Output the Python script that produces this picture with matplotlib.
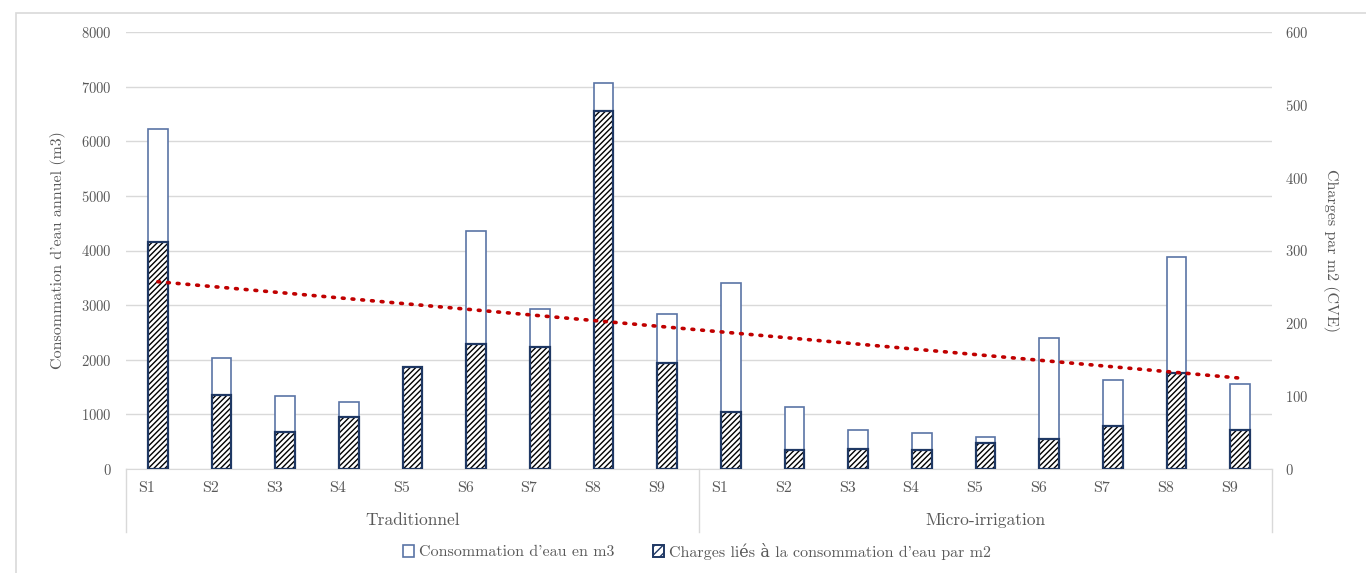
import matplotlib
matplotlib.use("Agg")
import matplotlib.pyplot as plt
import numpy as np
from matplotlib.patches import Patch, Rectangle
from matplotlib.lines import Line2D
import matplotlib.transforms as mtransforms

plt.rcParams['font.family'] = ['cmr10', 'DejaVu Serif']
plt.rcParams['axes.formatter.use_mathtext'] = True
plt.rcParams['hatch.linewidth'] = 1.0

groups = ["Traditionnel", "Micro-irrigation"]
sites = ["S1", "S2", "S3", "S4", "S5", "S6", "S7", "S8", "S9"]
consommation_trad = [6230, 2030, 1330, 1230, 1860, 4350, 2930, 7070, 2840]
consommation_micro = [3410, 1130, 720, 660, 590, 2390, 1630, 3880, 1555]
charges_trad = [311, 102, 51, 71, 140, 172, 167, 492, 146]
charges_micro = [78, 26, 28, 26, 36, 41, 59, 132, 53]

consommation = consommation_trad + consommation_micro
charges = charges_trad + charges_micro
labels = sites + sites
x = np.arange(len(labels))

grey_text = "#595959"
grid_c = "#d9d9d9"
outline_c = "#5a74a6"
navy = "#1f3864"

fig = plt.figure(figsize=(13.66, 5.73), dpi=100)
ax = fig.add_axes([126/1366, 1 - 469/573, 1146/1366, (469-32)/573])
ax2 = ax.twinx()

w = 0.31
ax.bar(x, consommation, width=w, facecolor="white", edgecolor=outline_c, linewidth=1.2, zorder=2)
ax.set_ylim(0, 8000)
ax.set_xlim(-0.5, len(labels) - 0.5)
ax.set_yticks(np.arange(0, 8001, 1000))
ax.grid(axis="y", color=grid_c, linewidth=1.0, zorder=0)
ax.set_axisbelow(True)

ax2.bar(x, charges, width=w, facecolor="white", edgecolor="black", linewidth=0, hatch="//////", zorder=2)
ax2.bar(x, charges, width=w, facecolor="none", edgecolor=navy, linewidth=1.6, zorder=3)
ax2.set_ylim(0, 600)
ax2.set_yticks(np.arange(0, 601, 100))

# linear trend of water consumption (left axis)
coef = np.polyfit(x, consommation, 1)
trend = np.polyval(coef, x)
ax2.plot(x, trend, transform=ax.transData, color="#c00000", linestyle=(0, (0.5, 2.2)),
         linewidth=2.6, dash_capstyle="round", zorder=5)

for a in (ax, ax2):
    for s in a.spines.values():
        s.set_visible(False)
    a.tick_params(axis="y", length=0, labelsize=10.5, labelcolor=grey_text)
ax.spines["bottom"].set_visible(True)
ax.spines["bottom"].set_color(grid_c)
ax.tick_params(axis="y", pad=10)
ax2.tick_params(axis="y", pad=9.5)

ax.set_xticks(x)
ax.set_xticklabels(labels, fontsize=11.5, color=grey_text)
ax.tick_params(axis="x", length=0, pad=9)
offset = mtransforms.ScaledTranslation(-11/100, 0, fig.dpi_scale_trans)
for lbl in ax.get_xticklabels():
    lbl.set_transform(lbl.get_transform() + offset)

ax.set_ylabel("Consommation d'eau annuel (m3)", fontsize=11.5, color=grey_text, labelpad=11)
ax2.set_ylabel("Charges par m2 (CVE)", fontsize=11.5, color=grey_text, rotation=-90, labelpad=22)

# group labels and separators
trans = mtransforms.blended_transform_factory(ax.transData, ax.transAxes)
ax_h_px = 469 - 32
sep_bottom = -(532 - 469) / ax_h_px
for i, g in enumerate(groups):
    center = i * len(sites) + (len(sites) - 1) / 2
    ax.text(center, -(520 - 469) / ax_h_px, g, transform=trans, ha="center", va="center",
            fontsize=12.5, color=grey_text)
for b in [-0.5, len(sites) - 0.5, 2 * len(sites) - 0.5]:
    ax.add_line(Line2D([b, b], [0, sep_bottom], transform=trans, color=grid_c,
                       linewidth=1.0, clip_on=False))

handles = [Patch(facecolor="white", edgecolor=outline_c, linewidth=1.2),
           Patch(facecolor="white", edgecolor=navy, linewidth=1.4, hatch="////")]
fig.legend(handles, ["Consommation d'eau en m3", "Charges liés à la consommation d'eau par m2"],
           loc="center", bbox_to_anchor=(697/1366, 1 - 551/573), ncol=2, frameon=False,
           fontsize=11.5, labelcolor=grey_text, handlelength=0.7, handleheight=0.7,
           handletextpad=0.3, columnspacing=2.4)

fig.patches.append(Rectangle((16/1366, -0.01), 1.02, 1 - 13/573 + 0.01, transform=fig.transFigure,
                             facecolor="none", edgecolor=grid_c, linewidth=1.2))

fig.savefig("out.png", dpi=100)
